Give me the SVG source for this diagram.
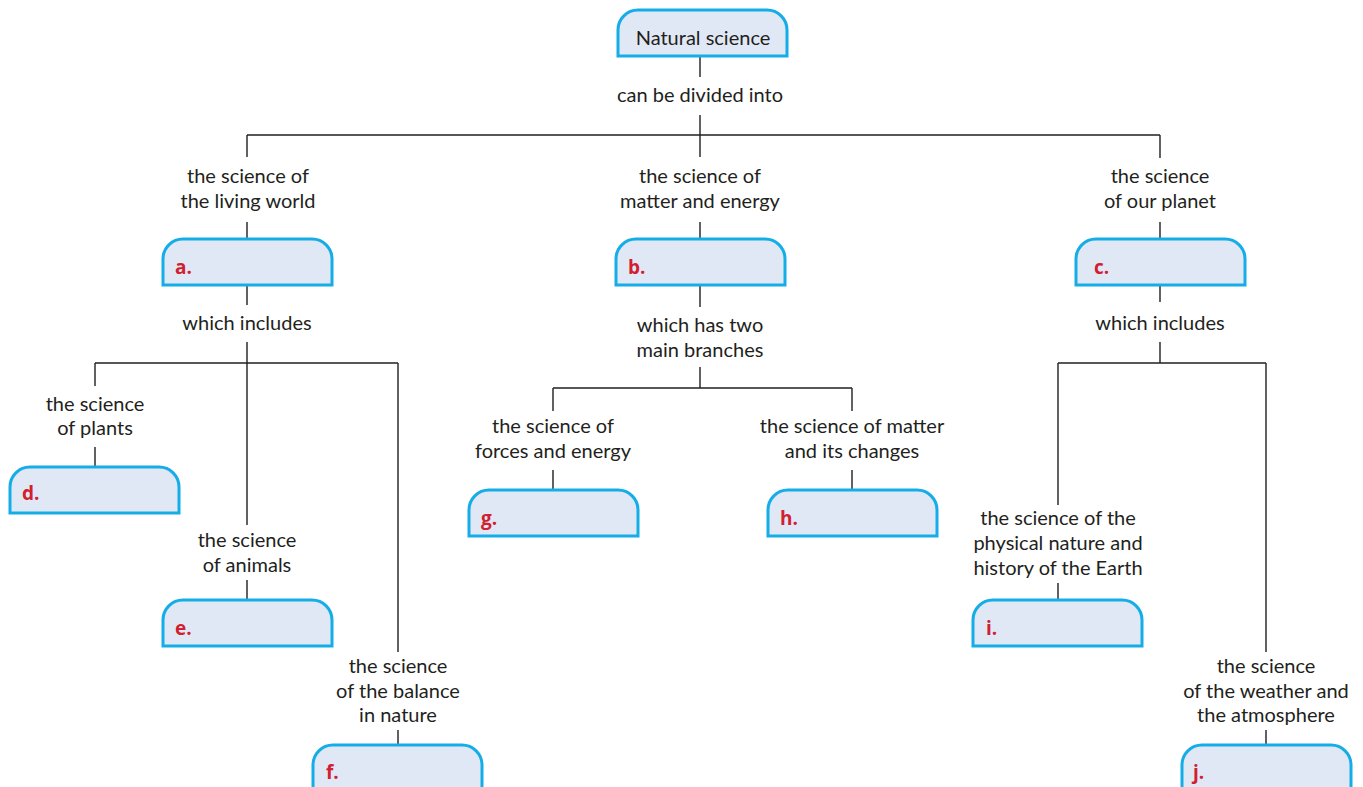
<svg xmlns="http://www.w3.org/2000/svg" xmlns:xlink="http://www.w3.org/1999/xlink" width="1363" height="787" viewBox="0 0 1363 787">
<style>
.box{fill:#e1e8f5;stroke:#14ade8;stroke-width:3}
.t{font-family:Lato,"Open Sans","Liberation Sans",sans-serif;font-size:20px;fill:#231f20;text-anchor:middle}
.k{font-family:"Open Sans",Lato,"Liberation Sans",sans-serif;font-size:19px;font-weight:bold;fill:#d1202f}
.c{stroke:#231f20;stroke-width:1.4;fill:none}
</style>
<defs>
<path id="box" d="M0 46 V20 A20 20 0 0 1 20 0 H149 A20 20 0 0 1 169 20 V46 Z"/>
</defs>
<rect width="1363" height="787" fill="#ffffff"/>
<g id="connectors" class="c">
<path d="M700 55 V77 M700 115 V135 M247 135 H1160 M247 135 V157 M700 135 V157 M1160 135 V158"/>
<path d="M247 222 V239 M700 222 V239 M1160 222 V239"/>
<path d="M247 285 V305 M247 342 V525 M95 363 H398 M95 363 V386 M95 447 V467 M398 363 V652 M247 580 V600 M398 730 V745"/>
<path d="M700 285 V307 M700 367 V388 M553 388 H852 M553 388 V411 M852 388 V411 M553 470 V490 M852 470 V490"/>
<path d="M1160 285 V302 M1160 342 V363 M1058 363 H1266 M1058 363 V505 M1058 583 V600 M1266 363 V652 M1266 730 V745"/>
</g>
<g id="link-labels">
<text class="t" x="700" y="102">can be divided into</text>
<text class="t" x="248" y="183">the science of</text>
<text class="t" x="248" y="208">the living world</text>
<text class="t" x="700" y="183">the science of</text>
<text class="t" x="700" y="208">matter and energy</text>
<text class="t" x="1160" y="183">the science</text>
<text class="t" x="1160" y="208">of our planet</text>
<text class="t" x="247" y="330">which includes</text>
<text class="t" x="700" y="332">which has two</text>
<text class="t" x="700" y="357">main branches</text>
<text class="t" x="1160" y="330">which includes</text>
<text class="t" x="95" y="411">the science</text>
<text class="t" x="95" y="435">of plants</text>
<text class="t" x="553" y="433">the science of</text>
<text class="t" x="553" y="458">forces and energy</text>
<text class="t" x="852" y="433">the science of matter</text>
<text class="t" x="852" y="458">and its changes</text>
<text class="t" x="247" y="547">the science</text>
<text class="t" x="247" y="572">of animals</text>
<text class="t" x="1058" y="525">the science of the</text>
<text class="t" x="1058" y="550">physical nature and</text>
<text class="t" x="1058" y="575">history of the Earth</text>
<text class="t" x="398" y="673">the science</text>
<text class="t" x="398" y="698">of the balance</text>
<text class="t" x="398" y="722">in nature</text>
<text class="t" x="1266" y="673">the science</text>
<text class="t" x="1266" y="698">of the weather and</text>
<text class="t" x="1266" y="722">the atmosphere</text>
</g>
<g id="node-top"><use href="#box" class="box" x="618" y="10"/><text class="t" x="703" y="45">Natural science</text></g>
<g id="node-a"><use href="#box" class="box" x="163" y="239"/><text class="k" x="175" y="274">a.</text></g>
<g id="node-b"><use href="#box" class="box" x="616" y="239"/><text class="k" x="628" y="274">b.</text></g>
<g id="node-c"><use href="#box" class="box" x="1076" y="239"/><text class="k" x="1094" y="274">c.</text></g>
<g id="node-d"><use href="#box" class="box" x="10" y="467"/><text class="k" x="22" y="500">d.</text></g>
<g id="node-e"><use href="#box" class="box" x="163" y="600"/><text class="k" x="175" y="635">e.</text></g>
<g id="node-f"><use href="#box" class="box" x="313" y="745"/><text class="k" x="326" y="779">f.</text></g>
<g id="node-g"><use href="#box" class="box" x="469" y="490"/><text class="k" x="481" y="525">g.</text></g>
<g id="node-h"><use href="#box" class="box" x="768" y="490"/><text class="k" x="780" y="525">h.</text></g>
<g id="node-i"><use href="#box" class="box" x="973" y="600"/><text class="k" x="986" y="635">i.</text></g>
<g id="node-j"><use href="#box" class="box" x="1182" y="745"/><text class="k" x="1193" y="779">j.</text></g>
</svg>
